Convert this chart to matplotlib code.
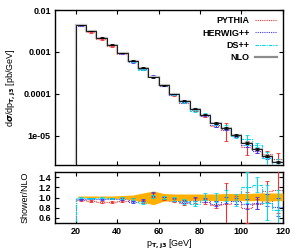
import numpy as np
import matplotlib
matplotlib.use('Agg')
import matplotlib.pyplot as plt
from matplotlib.lines import Line2D

# bins in pT,j3 [GeV]
edges = np.arange(20, 121, 5)
centres = edges[:-1] + 2.5

# NLO distribution [pb/GeV]
nlo = [4.4e-3, 3.2e-3, 2.2e-3, 1.5e-3, 9.6e-4, 6.2e-4, 4.2e-4, 2.5e-4, 1.6e-4, 1.0e-4,
       6.9e-5, 4.4e-5, 3.2e-5, 2.0e-5, 1.55e-5, 1.05e-5, 6.8e-6, 4.9e-6, 3.3e-6, 2.4e-6]
nlo_err = [0.01, 0.01, 0.01, 0.01, 0.01, 0.02, 0.02, 0.02, 0.02, 0.02,
           0.03, 0.03, 0.03, 0.04, 0.04, 0.05, 0.05, 0.06, 0.06, 0.07]

# shower / NLO ratios and their errors
pythia = [0.95, 0.93, 0.92, 0.91, 0.94, 0.96, 0.93, 1.05, 0.98, 0.94,
          0.90, 0.95, 0.92, 0.86, 0.88, 0.95, 0.80, 0.88, 1.12, 1.15]
pythia_err = [0.02, 0.02, 0.02, 0.02, 0.02, 0.03, 0.03, 0.04, 0.03, 0.03,
              0.04, 0.05, 0.05, 0.07, 0.40, 0.08, 0.30, 0.10, 0.20, 0.45]
herwig = [0.97, 0.98, 0.97, 0.98, 0.97, 0.92, 0.95, 1.07, 0.99, 0.96,
          0.92, 0.97, 0.95, 0.88, 0.95, 0.94, 0.88, 0.90, 0.95, 0.82]
herwig_err = [0.01, 0.01, 0.01, 0.01, 0.02, 0.02, 0.02, 0.03, 0.02, 0.03,
              0.03, 0.04, 0.04, 0.05, 0.06, 0.06, 0.10, 0.12, 0.12, 0.18]
dspp = [1.00, 0.99, 1.00, 0.99, 1.00, 0.97, 0.90, 1.02, 1.00, 0.97,
        0.93, 0.88, 1.02, 1.00, 1.04, 0.95, 1.20, 1.25, 0.90, 0.75]
dspp_err = [0.01, 0.01, 0.01, 0.01, 0.02, 0.02, 0.02, 0.03, 0.03, 0.04,
            0.05, 0.05, 0.06, 0.08, 0.10, 0.12, 0.30, 0.15, 0.35, 0.40]

# NLO uncertainty band (ratio)
band_hi = [1.03, 1.03, 1.03, 1.03, 1.04, 1.05, 1.09, 1.13, 1.08, 1.07,
           1.07, 1.07, 1.07, 1.07, 1.08, 1.08, 1.08, 1.09, 1.09, 1.09]
band_lo = [1.00, 1.00, 1.00, 0.99, 0.98, 0.96, 0.91, 0.86, 0.93, 0.94,
           0.94, 0.95, 0.95, 0.94, 0.94, 0.95, 0.94, 0.94, 0.93, 0.94]

top_ticks = [1e-2, 1e-3, 1e-4, 1e-5]
top_labels = ['0.01', '0.001', '0.0001', '1e-05']
bot_ticks = [0.6, 0.8, 1.0, 1.2, 1.4]
bot_labels = ['0.6', '0.8', '1.0', '1.2', '1.4']
x_ticks = [20, 40, 60, 80, 100, 120]

plt.rcParams['font.family'] = ['Liberation Sans', 'DejaVu Sans']
plt.rcParams['font.weight'] = 'bold'
plt.rcParams['font.size'] = 6.5

showers = [('PYTHIA', pythia, pythia_err, '#f03030', (0, (1, 1))),
           ('HERWIG++', herwig, herwig_err, '#3a3aff', (0, (1, 1))),
           ('DS++', dspp, dspp_err, '#00d8e8', (0, (3, 1, 1, 1)))]

fig = plt.figure(figsize=(2.99, 2.52), dpi=100)
ax1 = fig.add_axes([0.184, 0.345, 0.762, 0.615])
ax2 = fig.add_axes([0.184, 0.115, 0.762, 0.202])

nlo = np.array(nlo)
handles = []
for name, r, e, c, ls in showers:
    r = np.array(r)
    e = np.array(e)
    ax1.stairs(nlo * r, edges, baseline=1e-7, color=c, ls=ls, lw=0.8, zorder=2)
    ax1.errorbar(centres, nlo * r, yerr=nlo * e, fmt='none', ecolor=c, elinewidth=0.8,
                 capsize=1.2, capthick=0.6, zorder=3)
    ax2.stairs(r, edges, baseline=0, color=c, ls=ls, lw=0.8, zorder=2)
    ax2.errorbar(centres, r, yerr=e, fmt='none', ecolor=c, elinewidth=0.8,
                 capsize=1.2, capthick=0.6, zorder=4)
    handles.append(Line2D([], [], color=c, ls=ls, lw=0.8, label=name))

ax1.stairs(nlo, edges, baseline=1e-7, color='0.75', lw=1.6, zorder=4)
ax1.stairs(nlo, edges, baseline=1e-7, color='black', lw=0.6, zorder=5)
ax1.errorbar(centres, nlo, yerr=nlo * np.array(nlo_err), fmt='none', ecolor='black',
             elinewidth=0.8, capsize=1.2, capthick=0.6, zorder=6)
handles.append(Line2D([], [], color='0.55', lw=1.6, label='NLO'))

bx = np.r_[edges[0] + 1, centres, edges[-1]]
ax2.fill_between(bx, np.r_[band_lo[0], band_lo, band_lo[-1]],
                 np.r_[band_hi[0], band_hi, band_hi[-1]], color='#ffb000', lw=0, zorder=3)

ax1.set_yscale('log')
ax1.set_ylim(2e-6, 1e-2)
ax1.set_yticks(top_ticks, labels=top_labels)
ax1.yaxis.set_minor_locator(matplotlib.ticker.NullLocator())
ax1.set_xlim(10, 120)
ax1.set_xticks(x_ticks)
ax1.tick_params(labelbottom=False)
ax1.set_ylabel(r'd$\sigma$/dp$_{\mathrm{T,j3}}$ [pb/GeV]', labelpad=4)

ax2.set_xlim(10, 120)
ax2.set_ylim(0.5, 1.5)
ax2.set_xticks(x_ticks)
ax2.set_yticks(bot_ticks, labels=bot_labels)
ax2.set_ylabel('Shower/NLO', labelpad=6)
ax2.set_xlabel(r'p$_{\mathrm{T,j3}}$ [GeV]', labelpad=1)

for ax in (ax1, ax2):
    ax.tick_params(direction='in', top=True, right=True, length=3, width=0.8, pad=3)
    for s in ax.spines.values():
        s.set_linewidth(1.0)

ax1.legend(handles=handles, loc='upper right', frameon=False, markerfirst=False,
           handlelength=2.4, labelspacing=0.35, borderaxespad=0.3, handletextpad=0.6)

fig.savefig('out.png', dpi=100)
